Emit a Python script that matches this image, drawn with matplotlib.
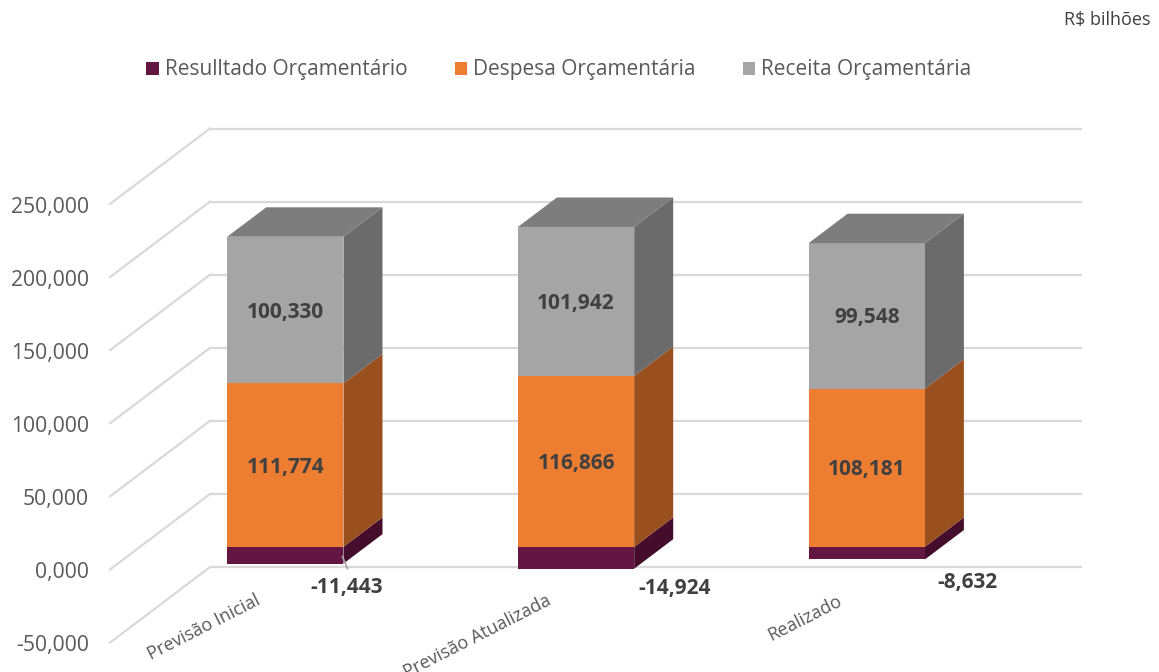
import matplotlib
matplotlib.use("Agg")
import matplotlib.pyplot as plt
from matplotlib.patches import Polygon, Patch
from matplotlib.transforms import offset_copy

plt.rcParams['font.family'] = ['Open Sans', 'DejaVu Sans']

# ---- data (R$ bilhões) ----
categories = ["Previsão Inicial", "Previsão Atualizada", "Realizado"]
resultado = [-11.443, -14.924, -8.632]
despesa = [111.774, 116.866, 108.181]
receita = [100.330, 101.942, 99.548]
series_names = ["Resulltado Orçamentário", "Despesa Orçamentária", "Receita Orçamentária"]
y_ticks = [-50, 0, 50, 100, 150, 200, 250]
unit_label = "R$ bilhões"

# ---- styling / layout ----
W, H = 1159, 672
PX_PER_CAT = 290.7
X0_PX = 110.0          # pixel of x=-0.5 (front-left corner)
PX_PER_UNIT = 1.462    # pixels per billion
ZERO_PX = 569.5        # pixel row of value 0 on front plane
DX = 100.0 / PX_PER_CAT
DV = 75.5 / PX_PER_UNIT
BAR_W = 0.4
D0, D1 = 0.30, 0.69

front_cols = ["#641642", "#ED7D31", "#A5A5A5"]
side_cols = ["#440D2C", "#9A4F1E", "#6B6B6B"]
top_cols = ["#531236", "#B85F24", "#7D7D7D"]
grid_col = "#D9D9D9"
txt_col = "#595959"
lbl_col = "#404040"

fig = plt.figure(figsize=(W / 100, H / 100), dpi=100)
ax = fig.add_axes([0, 0, 1, 1])
ax.set_xlim(-0.5 - X0_PX / PX_PER_CAT, -0.5 + (W - X0_PX) / PX_PER_CAT)
ax.set_ylim(-(H - ZERO_PX) / PX_PER_UNIT, ZERO_PX / PX_PER_UNIT)
ax.axis("off")


def P(x, v, d):
    return (x + d * DX, v + d * DV)


n = len(categories)
xl, xr = -0.5, n - 0.5

# gridlines: back wall + side wall
for t in y_ticks:
    ax.plot([P(xl, t, 1)[0], P(xr, t, 1)[0]], [P(xl, t, 1)[1]] * 2,
            color=grid_col, lw=1.6, zorder=1, solid_capstyle="butt")
    a, b = P(xl, t, 0), P(xl, t, 1)
    ax.plot([a[0], b[0]], [a[1], b[1]], color=grid_col, lw=1.6, zorder=1)

# y tick labels on front plane
tr_y = offset_copy(ax.transData, fig=fig, x=-21, y=-3, units="dots")
for t in y_ticks:
    ax.text(xl, t, f"{t:.3f}".replace(".", ","), transform=tr_y,
            ha="right", va="center", fontsize=15.2, color=txt_col)


def box(i, b, t, k, top=False):
    x0, x1 = i - BAR_W / 2, i + BAR_W / 2
    side = [P(x1, b, D0), P(x1, b, D1), P(x1, t, D1), P(x1, t, D0)]
    front = [P(x0, b, D0), P(x1, b, D0), P(x1, t, D0), P(x0, t, D0)]
    ax.add_patch(Polygon(side, closed=True, fc=side_cols[k], ec="none", zorder=3))
    ax.add_patch(Polygon(front, closed=True, fc=front_cols[k], ec="none", zorder=3))
    if top:
        tp = [P(x0, t, D0), P(x1, t, D0), P(x1, t, D1), P(x0, t, D1)]
        ax.add_patch(Polygon(tp, closed=True, fc=top_cols[k], ec="none", zorder=3))


def fmt(v):
    return f"{v:,.3f}".replace(",", "X").replace(".", ",").replace("X", ".")


LBL_FS = 15
tr_c = offset_copy(ax.transData, fig=fig, x=0, y=-2, units="dots")
neg_offsets = [(3, -24), (40, -20), (43, -23)]
for i in range(n):
    r, d_, c = resultado[i], despesa[i], receita[i]
    box(i, r, 0, 0)
    box(i, 0, d_, 1)
    box(i, d_, d_ + c, 2, top=True)
    ax.text(*P(i, d_ / 2, D0), fmt(d_), transform=tr_c, ha="center", va="center",
            fontsize=LBL_FS, fontweight="bold", color=lbl_col, zorder=5)
    ax.text(*P(i, d_ + c / 2, D0), fmt(c), transform=tr_c, ha="center", va="center",
            fontsize=LBL_FS, fontweight="bold", color=lbl_col, zorder=5)
    ox, oy = neg_offsets[i]
    tr = offset_copy(ax.transData, fig=fig, x=ox, y=oy, units="dots")
    ax.text(*P(i + BAR_W / 2, r, D0), fmt(r), transform=tr, ha="center",
            va="center", fontsize=LBL_FS, fontweight="bold", color=lbl_col, zorder=5)

# leader line for first negative label
xa, ya = P(0 + BAR_W / 2, resultado[0], D0)
l0 = ax.transData.transform((xa, ya))
ax.plot([l0[0] - 1, l0[0] + 4], [l0[1] + 7, l0[1] - 5], transform=None,
        color="#A6A6A6", lw=1.2, zorder=4)

# category labels
for i, cat in enumerate(categories):
    tr = offset_copy(ax.transData, fig=fig, x=0, y=51, units="dots")
    ax.text(i, y_ticks[0], cat, transform=tr, rotation=27, rotation_mode="anchor",
            ha="right", va="top", fontsize=13, color=txt_col)

# legend
handles = [Patch(fc=front_cols[k], ec="none", label=series_names[k]) for k in range(3)]
fig.legend(handles=handles, loc="center", bbox_to_anchor=(559 / W, 1 - 70 / H),
           ncol=3, frameon=False, fontsize=15, handlelength=0.6, handleheight=0.6,
           handletextpad=0.29, columnspacing=2.26, labelcolor=txt_col)

fig.text(1150 / W, 1 - 20 / H, unit_label, ha="right", va="center", fontsize=13,
         color=lbl_col)

fig.savefig("out.png", dpi=100)
